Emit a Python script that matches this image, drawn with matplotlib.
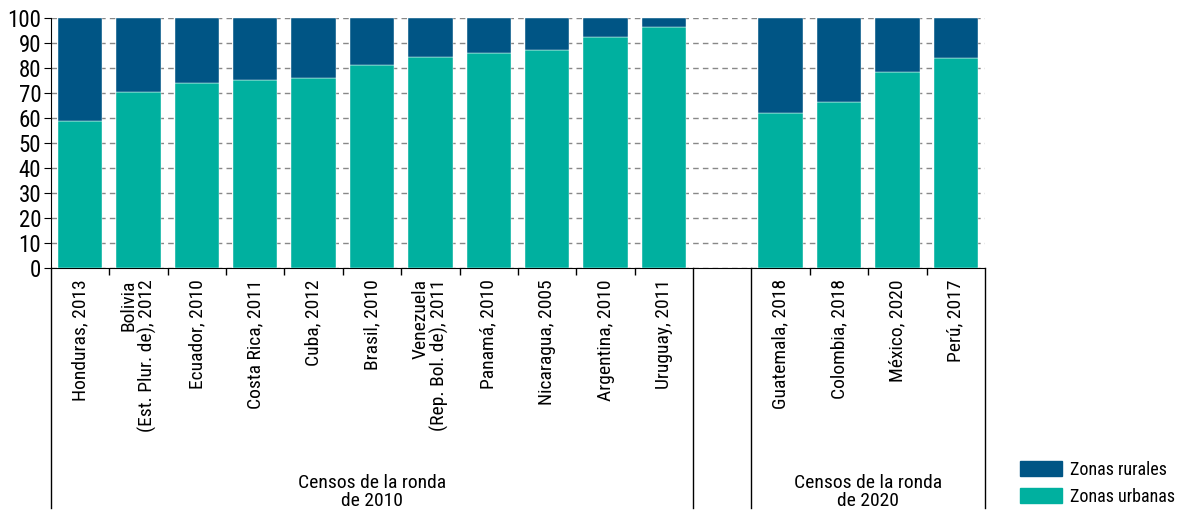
import matplotlib.pyplot as plt
from matplotlib.patches import Patch

plt.rcParams['font.family'] = ['Roboto Condensed', 'Roboto', 'DejaVu Sans']

# data (percentages)
labels_2010 = ['Honduras, 2013', 'Bolivia\n(Est. Plur. de), 2012', 'Ecuador, 2010',
               'Costa Rica, 2011', 'Cuba, 2012', 'Brasil, 2010',
               'Venezuela\n(Rep. Bol. de), 2011', 'Panamá, 2010', 'Nicaragua, 2005',
               'Argentina, 2010', 'Uruguay, 2011']
urban_2010 = [58.9, 70.5, 74.1, 75.2, 76.0, 81.2, 84.4, 86.1, 87.2, 92.4, 96.4]
rural_2010 = [41.1, 29.5, 25.9, 24.8, 24.0, 18.8, 15.6, 13.9, 12.8, 7.6, 3.6]

labels_2020 = ['Guatemala, 2018', 'Colombia, 2018', 'México, 2020', 'Perú, 2017']
urban_2020 = [61.9, 66.5, 78.4, 84.0]
rural_2020 = [38.1, 33.5, 21.6, 16.0]

group_names = ['Censos de la ronda\nde 2010', 'Censos de la ronda\nde 2020']

c_urban = '#00B09F'
c_rural = '#005585'

n1 = len(labels_2010)
pos1 = list(range(n1))
pos2 = [n1 + 1 + i for i in range(len(labels_2020))]
positions = pos1 + pos2
labels = labels_2010 + labels_2020
urban = urban_2010 + urban_2020
rural = rural_2010 + rural_2020

fig = plt.figure(figsize=(11.8, 5.11), dpi=100)
ax = fig.add_axes([0.0432, 0.4755, 0.7915, 0.4893])

ax.bar(positions, urban, width=0.76, color=c_urban, edgecolor='white', linewidth=0.3, zorder=3)
ax.bar(positions, rural, width=0.76, bottom=urban, color=c_rural, edgecolor='white',
       linewidth=0.3, zorder=3)

ax.set_xlim(-0.5, pos2[-1] + 0.5)
ax.set_ylim(0, 100)
ax.set_yticks(range(0, 101, 10))
ax.yaxis.grid(True, linestyle=(0, (4, 3)), color='#888888', linewidth=1, zorder=0)
ax.tick_params(axis='y', labelsize=16.5, length=5, direction='out', pad=2)

ax.set_xticks(positions)
ax.set_xticklabels(labels, rotation=90, fontsize=14, va='top', ha='center',
                   multialignment='right', linespacing=1.0)
ax.tick_params(axis='x', length=0, pad=8)
minor = [p + 0.5 for p in pos1[:-1]] + [p + 0.5 for p in pos2[:-1]]
ax.set_xticks(minor, minor=True)
ax.tick_params(axis='x', which='minor', length=5, direction='out', width=1)

for s in ['top', 'right']:
    ax.spines[s].set_visible(False)
ax.spines['left'].set_bounds(0, 100)

# group separators
trans = ax.get_xaxis_transform()
for xv in [-0.5, pos1[-1] + 0.5, pos2[0] - 0.5, pos2[-1] + 0.5]:
    ax.plot([xv, xv], [0, -0.96], transform=trans, color='black', lw=1, clip_on=False)

ax.text((pos1[0] + pos1[-1]) / 2, -0.895, group_names[0], transform=trans,
        ha='center', va='center', fontsize=14, linespacing=1.0)
ax.text((pos2[0] + pos2[-1]) / 2, -0.895, group_names[1], transform=trans,
        ha='center', va='center', fontsize=14, linespacing=1.0)

handles = [Patch(color=c_rural, label='Zonas rurales'), Patch(color=c_urban, label='Zonas urbanas')]
fig.legend(handles=handles, loc='center left', bbox_to_anchor=(0.8644, 0.0538), frameon=False,
           fontsize=13, handlelength=2.3, handleheight=0.9, handletextpad=0.45,
           labelspacing=0.5, borderpad=0, borderaxespad=0)

fig.savefig('out.png', dpi=100)
